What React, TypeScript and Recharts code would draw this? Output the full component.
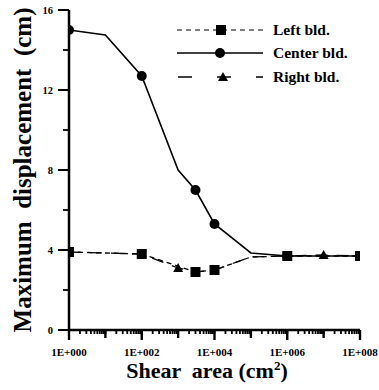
import { Legend, Line, LineChart, XAxis, YAxis } from 'recharts';

const FONT = '"Liberation Serif", "Times New Roman", serif';

// Shear area (cm2) against maximum displacement (cm)
const leftX = [1, 100, 3000, 1e4, 1e5, 1e6, 1e8];
const leftY = [3.9, 3.8, 2.9, 3.0, 3.65, 3.7, 3.7];
const leftMarked = [1, 100, 3000, 1e4, 1e6, 1e8];

const centerX = [1, 10, 100, 1000, 3000, 1e4, 1e5, 1e6, 1e8];
const centerY = [15.0, 14.75, 12.7, 8.0, 7.0, 5.3, 3.85, 3.7, 3.7];
const centerMarked = [1, 100, 3000, 1e4, 1e6, 1e8];

const rightX = [1, 100, 1000, 3000, 1e4, 1e5, 1e6, 1e7, 1e8];
const rightY = [3.9, 3.8, 3.1, 2.9, 3.0, 3.65, 3.7, 3.75, 3.7];
const rightMarked = [1000, 1e7];

const seriesNames = ['Left bld.', 'Center bld.', 'Right bld.'];

// axis ticks
const xMajor = [1, 100, 1e4, 1e6, 1e8];
const xTickLabels = ['1E+000', '1E+002', '1E+004', '1E+006', '1E+008'];
const yTicks = [0, 2, 4, 6, 8, 10, 12, 14, 16];
const yMajor = [0, 4, 8, 12, 16];
const yTickLabels = ['0', '4', '8', '12', '16'];

// minor log ticks: 1..9 in each decade
const xAllTicks: number[] = [];
for (let d = 0; d < 8; d++) {
  for (let k = 1; k < 10; k++) xAllTicks.push(k * Math.pow(10, d));
}
xAllTicks.push(1e8);

const toRows = (xs: number[], ys: number[]) => xs.map((x, i) => ({ x, y: ys[i] }));
const leftData = toRows(leftX, leftY);
const centerData = toRows(centerX, centerY);
const rightData = toRows(rightX, rightY);

const X_TICK = 4;
const Y_TICK = 6;

// built-in tick line is the short (minor) one; decades get a longer one here
const renderXTick = (props: any) => {
  const { x, y, payload, index } = props;
  const v = payload.value;
  const idx = xMajor.indexOf(v);
  const lg = Math.log10(v);
  const decade = Math.abs(lg - Math.round(lg)) < 1e-9;
  const axisY = y - X_TICK;
  return (
    <g key={`xt${index}`}>
      {decade && (
        <rect x={x - 1.2} y={axisY} width={2.4} height={idx >= 0 ? 10 : 8} fill="#000" />
      )}
      {idx >= 0 && (
        <text
          x={x}
          y={axisY + 26}
          textAnchor="middle"
          fontFamily={FONT}
          fontWeight="bold"
          fontSize={11}
          fill="#000"
        >
          {xTickLabels[idx]}
        </text>
      )}
    </g>
  );
};

const renderYTick = (props: any) => {
  const { x, y, payload, index } = props;
  const idx = yMajor.indexOf(payload.value);
  const axisX = x + Y_TICK;
  return (
    <g key={`yt${index}`}>
      {idx >= 0 && <rect x={axisX - 11} y={y - 1} width={11} height={2} fill="#000" />}
      {idx >= 0 && (
        <text
          x={axisX - 16}
          y={y + 4}
          textAnchor="end"
          fontFamily={FONT}
          fontWeight="bold"
          fontSize={10.5}
          fill="#000"
        >
          {yTickLabels[idx]}
        </text>
      )}
    </g>
  );
};

const squareDot = (marked: number[]) => (p: any) => {
  const { cx, cy, payload, index } = p;
  if (!marked.includes(payload.x)) return <g key={`s${index}`} />;
  return <rect key={`s${index}`} x={cx - 5} y={cy - 5} width={10} height={10} fill="#000" />;
};

const circleDot = (marked: number[]) => (p: any) => {
  const { cx, cy, payload, index } = p;
  if (!marked.includes(payload.x)) return <g key={`c${index}`} />;
  return <circle key={`c${index}`} cx={cx} cy={cy} r={5} fill="#000" />;
};

const triangleDot = (marked: number[]) => (p: any) => {
  const { cx, cy, payload, index } = p;
  if (!marked.includes(payload.x)) return <g key={`t${index}`} />;
  return (
    <polygon
      key={`t${index}`}
      points={`${cx},${cy - 5} ${cx + 5},${cy + 4} ${cx - 5},${cy + 4}`}
      fill="#000"
    />
  );
};

// legend drawn inside the plot, top right
const renderLegend = () => {
  const rows = [8, 31, 55];
  return (
    <svg width={200} height={70} style={{ overflow: 'visible' }}>
      {/* Left bld. */}
      <line x1={7} x2={93} y1={rows[0]} y2={rows[0]} stroke="#000" strokeWidth={1.2} strokeDasharray="5 4" />
      <rect x={46} y={rows[0] - 5} width={10} height={10} fill="#000" />
      {/* Center bld. */}
      <line x1={7} x2={93} y1={rows[1]} y2={rows[1]} stroke="#000" strokeWidth={1.6} />
      <circle cx={50} cy={rows[1]} r={5} fill="#000" />
      {/* Right bld. */}
      <line x1={8} x2={93} y1={rows[2]} y2={rows[2]} stroke="#000" strokeWidth={1.3} strokeDasharray="14 25" />
      <polygon points={`53,${rows[2] - 5} 58,${rows[2] + 4} 48,${rows[2] + 4}`} fill="#000" />
      {seriesNames.map((n, i) => (
        <text key={n} x={103} y={rows[i] + 5} fontFamily={FONT} fontWeight="bold" fontSize={15.5} fill="#000">
          {n}
        </text>
      ))}
    </svg>
  );
};

export default function App() {
  return (
    <div
      style={{
        position: 'absolute',
        left: 0,
        top: 0,
        width: 379,
        height: 390,
        overflow: 'hidden',
        background: '#fff',
      }}
    >
      <LineChart width={379} height={390} margin={{ top: 10, right: 19, bottom: 0, left: 0 }}>
        <XAxis
          type="number"
          dataKey="x"
          scale="log"
          domain={[1, 1e8]}
          allowDataOverflow
          ticks={xAllTicks}
          interval={0}
          tick={renderXTick}
          tickLine={{ stroke: '#000', strokeWidth: 1.8 }}
          tickSize={X_TICK}
          tickMargin={0}
          height={60}
          axisLine={{ stroke: '#000', strokeWidth: 2.5 }}
        />
        <XAxis
          xAxisId="top"
          orientation="top"
          type="number"
          scale="log"
          domain={[1, 1e8]}
          allowDataOverflow
          height={0}
          tick={false}
          tickLine={false}
          axisLine={{ stroke: '#000', strokeWidth: 2 }}
        />
        <YAxis
          type="number"
          domain={[0, 16]}
          allowDataOverflow
          ticks={yTicks}
          interval={0}
          tick={renderYTick}
          tickLine={{ stroke: '#000', strokeWidth: 1.8 }}
          tickSize={Y_TICK}
          tickMargin={0}
          width={69}
          axisLine={{ stroke: '#000', strokeWidth: 2.5 }}
        />
        <YAxis
          yAxisId="right"
          orientation="right"
          type="number"
          domain={[0, 16]}
          allowDataOverflow
          width={0}
          tick={false}
          tickLine={false}
          axisLine={{ stroke: '#000', strokeWidth: 2 }}
        />
        <Line
          data={rightData}
          dataKey="y"
          name={seriesNames[2]}
          type="linear"
          stroke="#000"
          strokeWidth={1.3}
          strokeDasharray="12 9"
          dot={triangleDot(rightMarked)}
          activeDot={false}
          isAnimationActive={false}
        />
        <Line
          data={leftData}
          dataKey="y"
          name={seriesNames[0]}
          type="linear"
          stroke="#000"
          strokeWidth={1.3}
          strokeDasharray="5 4"
          dot={squareDot(leftMarked)}
          activeDot={false}
          isAnimationActive={false}
        />
        <Line
          data={centerData}
          dataKey="y"
          name={seriesNames[1]}
          type="linear"
          stroke="#000"
          strokeWidth={1.6}
          dot={circleDot(centerMarked)}
          activeDot={false}
          isAnimationActive={false}
        />
        <Legend
          layout="vertical"
          align="center"
          verticalAlign="middle"
          wrapperStyle={{ left: 170, top: 22, width: 200, height: 70 }}
          content={renderLegend}
        />
        <text
          x={207}
          y={378}
          textAnchor="middle"
          fontFamily={FONT}
          fontWeight="bold"
          fontSize={22}
          fill="#000"
          style={{ whiteSpace: 'pre' }}
        >
          {'Shear  area (cm'}
          <tspan dy={-8} fontSize={13}>2</tspan>
          <tspan dy={8}>)</tspan>
        </text>
        <text
          x={31}
          y={170}
          transform="rotate(-90 31 170)"
          textAnchor="middle"
          fontFamily={FONT}
          fontWeight="bold"
          fontSize={25}
          fill="#000"
          style={{ whiteSpace: 'pre' }}
        >
          {'Maximum  displacement  (cm)'}
        </text>
      </LineChart>
    </div>
  );
}
